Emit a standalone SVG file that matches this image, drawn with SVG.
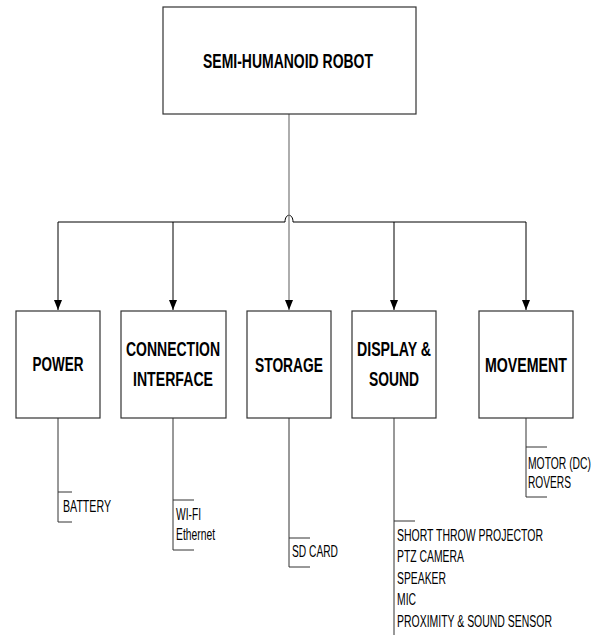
<svg xmlns="http://www.w3.org/2000/svg" width="599" height="635" viewBox="0 0 599 635">
<style>
.box{fill:#fff;stroke:#333;stroke-width:1.2}
.t{font-family:"Liberation Sans",Arial,sans-serif;font-weight:bold;font-size:21px;fill:#000;text-anchor:middle}
.l{font-family:"Liberation Sans",Arial,sans-serif;font-size:16px;fill:#000}
.c{fill:none;stroke:#000;stroke-width:1}
.g{fill:none;stroke:#777;stroke-width:1.2}
.b{fill:none;stroke:#333;stroke-width:1}
</style>
<defs>
<marker id="ah" markerWidth="10" markerHeight="8" refX="10" refY="4" orient="auto" markerUnits="userSpaceOnUse" viewBox="0 0 10 8">
<path d="M0,0 L10,4 L0,8 Z" fill="#000"/>
</marker>
</defs>
<g id="connectors">
<path class="c" d="M58,222 L285,222 C285,213 293,213 293,222 L526,222"/>
<line class="c" x1="58" y1="222" x2="58" y2="310" marker-end="url(#ah)"/>
<line class="c" x1="173" y1="222" x2="173" y2="310" marker-end="url(#ah)"/>
<line class="g" x1="289" y1="114" x2="289" y2="310" marker-end="url(#ah)"/>
<line class="c" x1="394" y1="222" x2="394" y2="310" marker-end="url(#ah)"/>
<line class="c" x1="526" y1="222" x2="526" y2="310" marker-end="url(#ah)"/>
<path class="b" d="M72,492 H58 V418 M58,492 V522 H72"/>
<path class="b" d="M194,500 H173 V418 M173,500 V550 H194"/>
<path class="b" d="M310,538 H289 V418 M289,538 V567 H310"/>
<path class="b" d="M415,521 H394 V418 M394,521 V635"/>
<path class="b" d="M547,447 H526 V418 M526,447 V497 H547"/>
</g>
<g id="robot">
<rect class="box" x="163" y="7" width="253" height="107"/>
<text class="t" x="288" y="68" textLength="170" lengthAdjust="spacingAndGlyphs">SEMI-HUMANOID ROBOT</text>
</g>
<g id="power">
<rect class="box" x="16" y="311" width="84" height="107"/>
<text class="t" x="58" y="371" textLength="51" lengthAdjust="spacingAndGlyphs">POWER</text>
<text class="l" x="63" y="512" textLength="48" lengthAdjust="spacingAndGlyphs">BATTERY</text>
</g>
<g id="connection">
<rect class="box" x="121" y="311" width="105" height="107"/>
<text class="t" x="173" y="356" textLength="94" lengthAdjust="spacingAndGlyphs">CONNECTION</text>
<text class="t" x="173" y="386" textLength="80" lengthAdjust="spacingAndGlyphs">INTERFACE</text>
<text class="l" x="176" y="520" textLength="25" lengthAdjust="spacingAndGlyphs">WI-FI</text>
<text class="l" x="176" y="540" textLength="39" lengthAdjust="spacingAndGlyphs">Ethernet</text>
</g>
<g id="storage">
<rect class="box" x="247" y="311" width="84" height="107"/>
<text class="t" x="289" y="372" textLength="68" lengthAdjust="spacingAndGlyphs">STORAGE</text>
<text class="l" x="292" y="557" textLength="46" lengthAdjust="spacingAndGlyphs">SD CARD</text>
</g>
<g id="display">
<rect class="box" x="352" y="311" width="84" height="107"/>
<text class="t" x="394" y="356" textLength="74" lengthAdjust="spacingAndGlyphs">DISPLAY &amp;</text>
<text class="t" x="394" y="386" textLength="50" lengthAdjust="spacingAndGlyphs">SOUND</text>
<text class="l" x="397" y="541" textLength="146" lengthAdjust="spacingAndGlyphs">SHORT THROW PROJECTOR</text>
<text class="l" x="397" y="562" textLength="67" lengthAdjust="spacingAndGlyphs">PTZ CAMERA</text>
<text class="l" x="397" y="584" textLength="49" lengthAdjust="spacingAndGlyphs">SPEAKER</text>
<text class="l" x="397" y="605" textLength="19" lengthAdjust="spacingAndGlyphs">MIC</text>
<text class="l" x="397" y="627" textLength="155" lengthAdjust="spacingAndGlyphs">PROXIMITY &amp; SOUND SENSOR</text>
</g>
<g id="movement">
<rect class="box" x="479" y="311" width="94" height="107"/>
<text class="t" x="526" y="372" textLength="82" lengthAdjust="spacingAndGlyphs">MOVEMENT</text>
<text class="l" x="528" y="469" textLength="63" lengthAdjust="spacingAndGlyphs">MOTOR (DC)</text>
<text class="l" x="528" y="488" textLength="43" lengthAdjust="spacingAndGlyphs">ROVERS</text>
</g>
</svg>
